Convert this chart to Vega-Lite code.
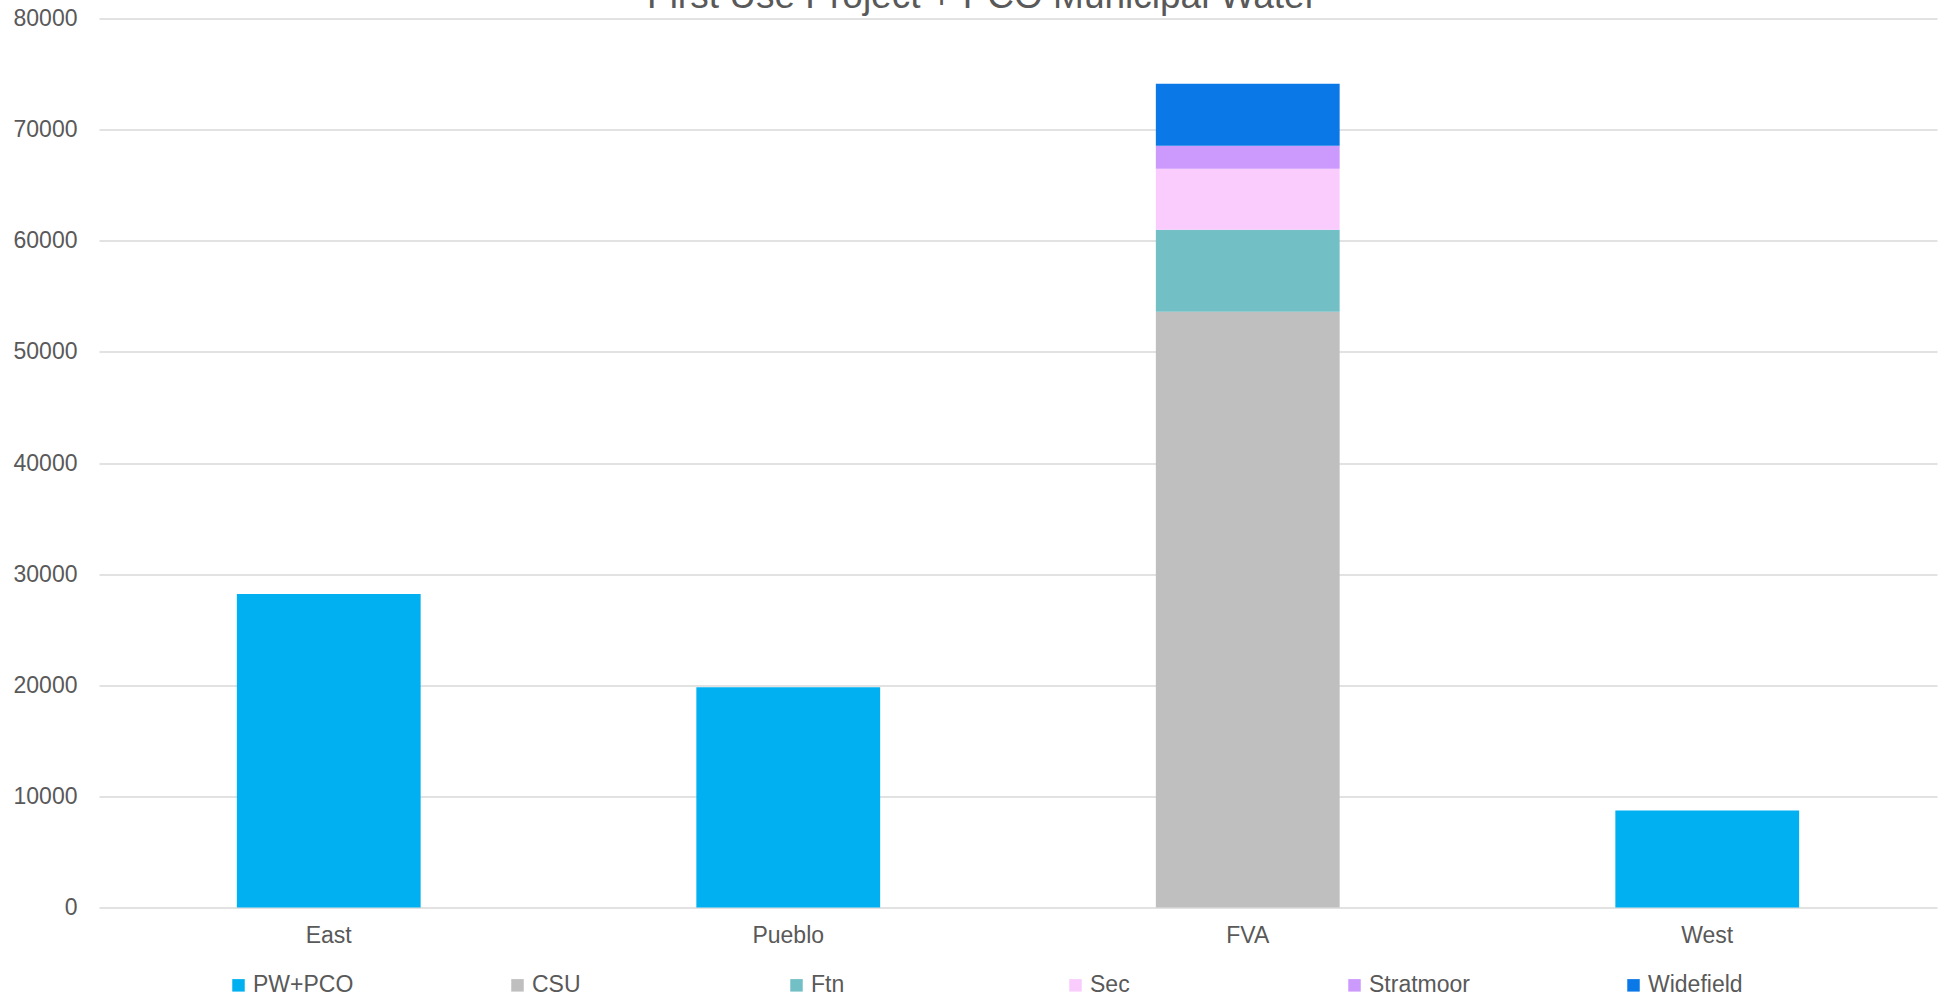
{
  "$schema": "https://vega.github.io/schema/vega-lite/v6.json",
  "autosize": {"type": "none"},
  "width": 1838,
  "height": 889,
  "padding": {"left": 99, "top": 18.6, "right": 10, "bottom": 92.4},
  "background": "white",
  "title": {
    "text": "First Use Project + PCO Municipal Water",
    "frame": "group",
    "anchor": "middle",
    "orient": "top",
    "offset": -8,
    "dx": -36,
    "font": "Liberation Sans",
    "fontSize": 37,
    "fontWeight": "normal",
    "color": "#595959"
  },
  "data": {
    "values": [
      {"region": "East", "series": "PW+PCO", "value": 28230},
      {"region": "Pueblo", "series": "PW+PCO", "value": 19840},
      {"region": "FVA", "series": "CSU", "value": 53610},
      {"region": "FVA", "series": "Ftn", "value": 7380},
      {"region": "FVA", "series": "Sec", "value": 5490},
      {"region": "FVA", "series": "Stratmoor", "value": 2070},
      {"region": "FVA", "series": "Widefield", "value": 5580},
      {"region": "West", "series": "PW+PCO", "value": 8730}
    ]
  },
  "mark": {"type": "bar"},
  "encoding": {
    "x": {
      "field": "region",
      "type": "nominal",
      "sort": ["East", "Pueblo", "FVA", "West"],
      "scale": {"paddingInner": 0.6, "paddingOuter": 0.3},
      "axis": {
        "title": null,
        "labelAngle": 0,
        "ticks": false,
        "domain": false,
        "labelPadding": 17,
        "labelFont": "Liberation Sans",
        "labelFontSize": 23,
        "labelColor": "#595959"
      }
    },
    "y": {
      "field": "value",
      "type": "quantitative",
      "stack": "zero",
      "scale": {"domain": [0, 80000], "nice": false},
      "axis": {
        "title": null,
        "values": [0, 10000, 20000, 30000, 40000, 50000, 60000, 70000, 80000],
        "format": "d",
        "ticks": false,
        "domain": false,
        "labelPadding": 22,
        "labelFont": "Liberation Sans",
        "labelFontSize": 23,
        "labelColor": "#595959",
        "grid": true,
        "gridColor": "#D9D9D9",
        "gridWidth": 1.5
      }
    },
    "color": {
      "field": "series",
      "type": "nominal",
      "scale": {
        "domain": ["PW+PCO", "CSU", "Ftn", "Sec", "Stratmoor", "Widefield"],
        "range": ["#00B0F0", "#BFBFBF", "#72BFC5", "#FACCFE", "#CC99FC", "#0A78E6"]
      },
      "legend": {
        "title": null,
        "orient": "none",
        "direction": "horizontal",
        "columns": 6,
        "gridAlign": "all",
        "columnPadding": 152,
        "legendX": 128,
        "legendY": 955,
        "symbolType": "square",
        "symbolSize": 156,
        "symbolStrokeWidth": 0,
        "labelOffset": 3,
        "labelFont": "Liberation Sans",
        "labelFontSize": 23,
        "labelColor": "#595959",
        "labelLimit": 300
      }
    },
    "order": {"field": "series", "sort": "ascending"}
  },
  "config": {
    "view": {"stroke": null}
  }
}
